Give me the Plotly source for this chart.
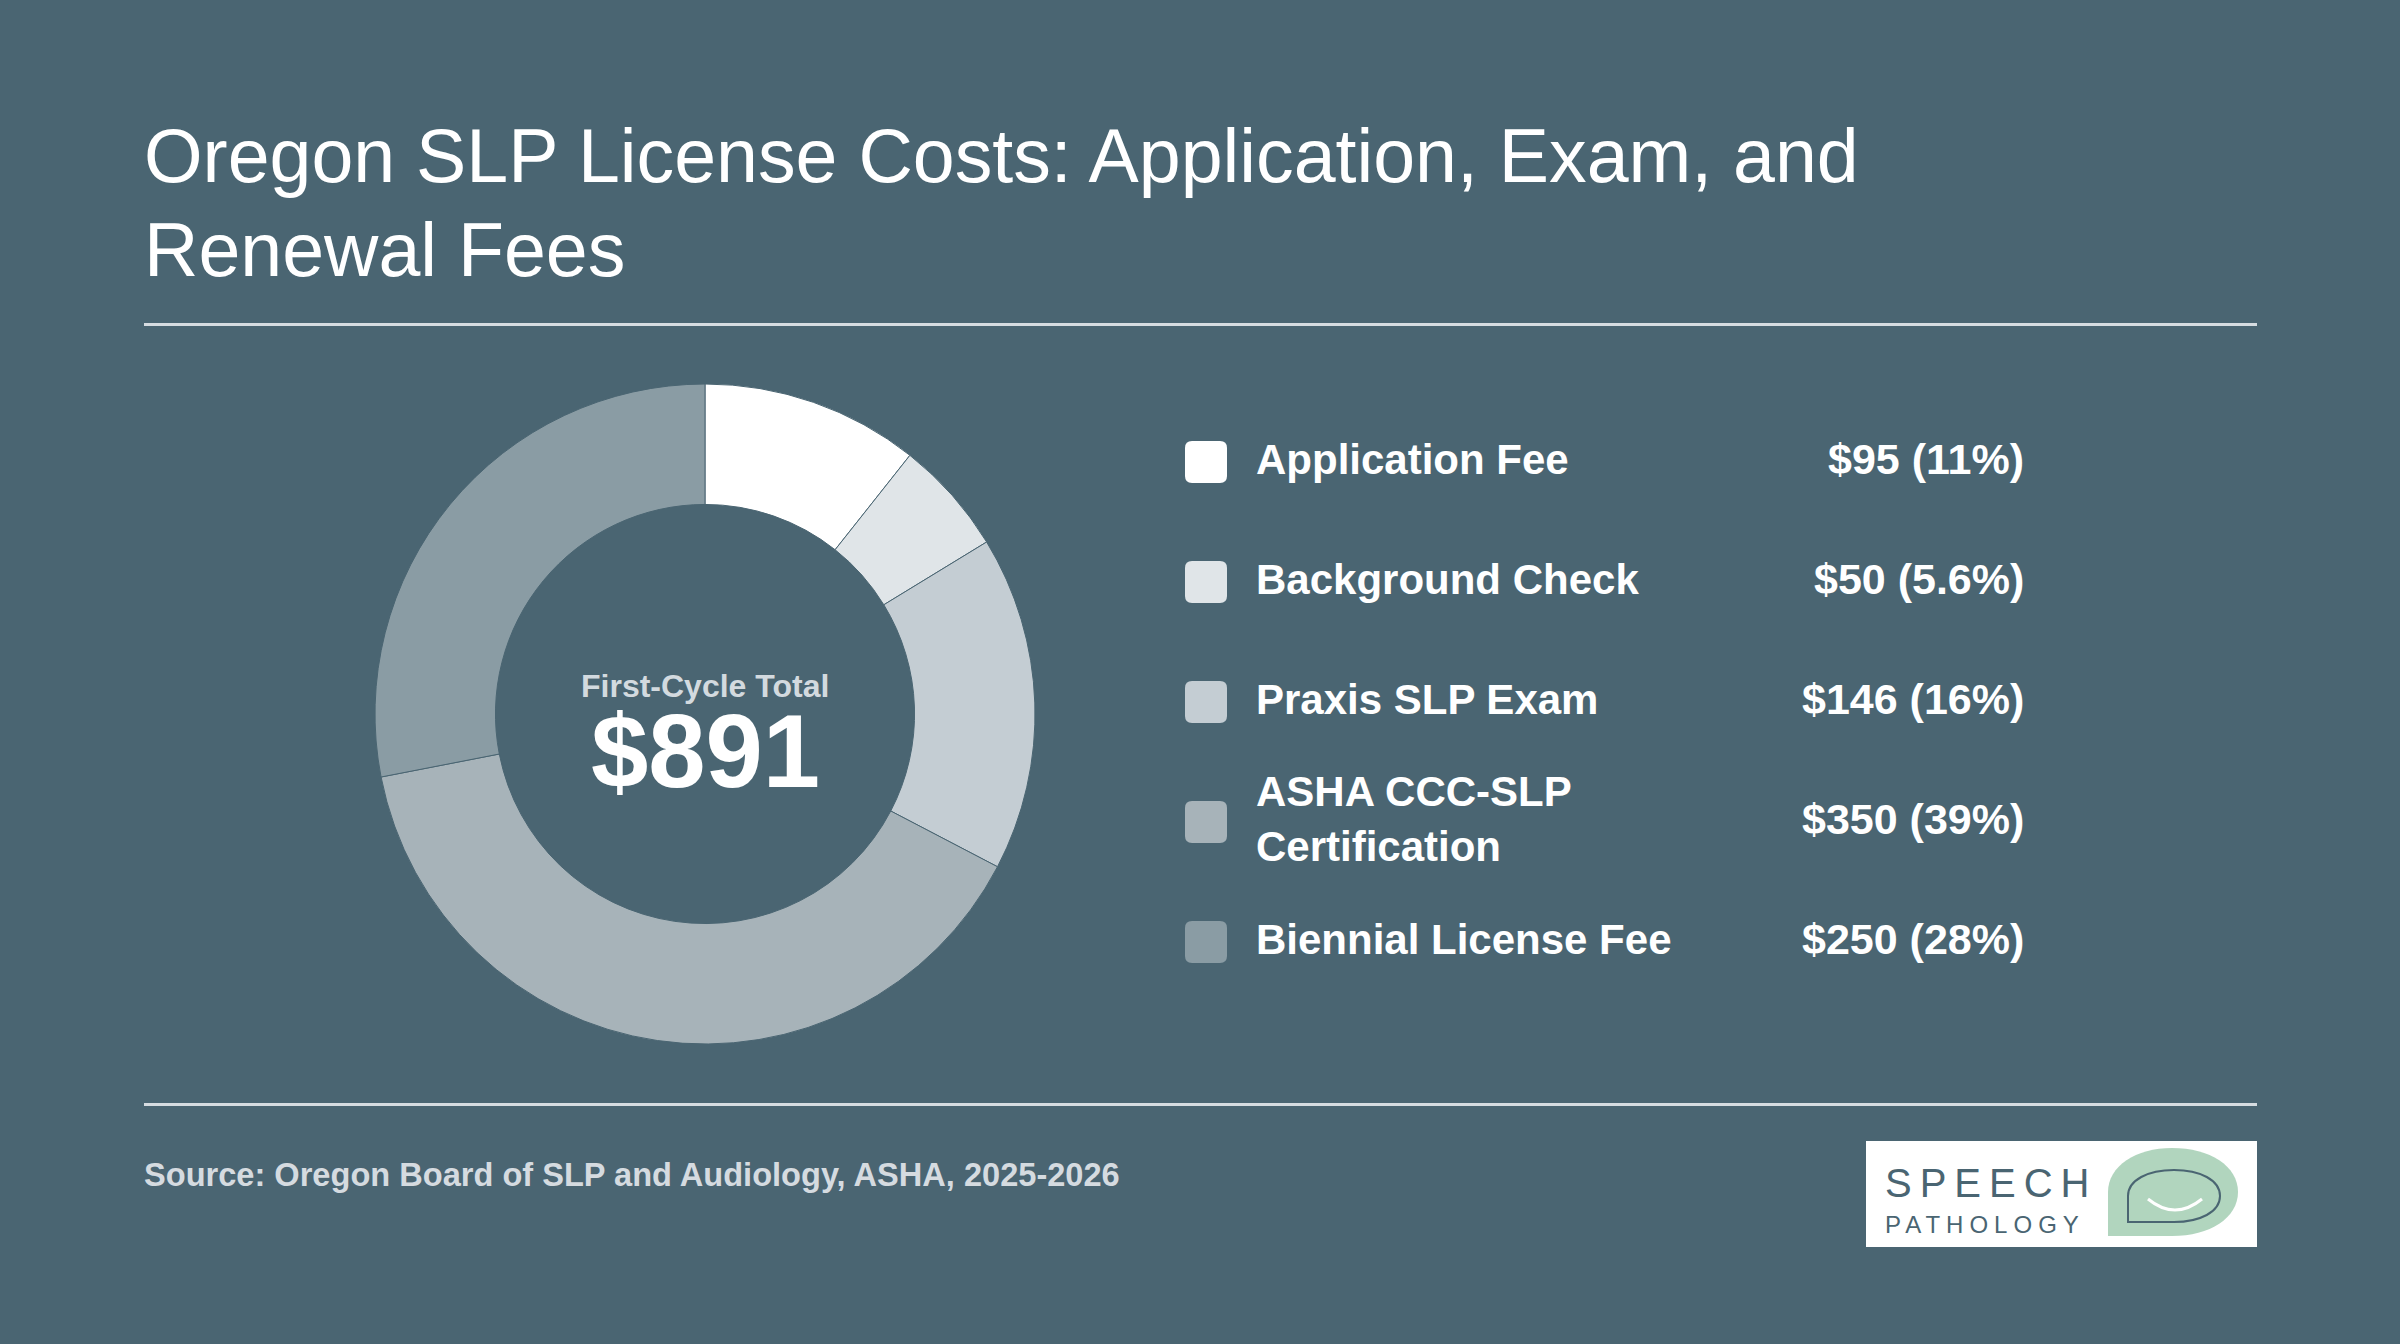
import plotly.graph_objects as go

# ---------------- data ----------------
categories = ["Application Fee", "Background Check", "Praxis SLP Exam",
              "ASHA CCC-SLP Certification", "Biennial License Fee"]
legend_labels = ["Application Fee", "Background Check", "Praxis SLP Exam",
                 "ASHA CCC-SLP<br>Certification", "Biennial License Fee"]
fees = [95, 50, 146, 350, 250]
colors = ["#ffffff", "#e0e5e8", "#c4cdd3", "#a7b3b9", "#8a9ca4"]

title_lines = ["Oregon SLP License Costs: Application, Exam, and", "Renewal Fees"]
center_label = "First-Cycle Total"
source_text = "Source: Oregon Board of SLP and Audiology, ASHA, 2025-2026"

# ---------------- layout helpers ----------------
W, H = 2400, 1344
BG = "#4a6572"
FONT = "Liberation Sans, Arial, Helvetica, sans-serif"


def px(x):
    return x / W


def py(y):
    return 1 - y / H


def path(cmds):
    out = []
    for c in cmds:
        if isinstance(c, str):
            out.append(c)
        else:
            out.append(f"{px(c[0]):.6f},{py(c[1]):.6f}")
    return " ".join(out)


def rounded_rect(x0, y0, x1, y1, r):
    return path(["M", (x0 + r, y0), "L", (x1 - r, y0), "Q", (x1, y0), (x1, y0 + r),
                 "L", (x1, y1 - r), "Q", (x1, y1), (x1 - r, y1),
                 "L", (x0 + r, y1), "Q", (x0, y1), (x0, y1 - r),
                 "L", (x0, y0 + r), "Q", (x0, y0), (x0 + r, y0), "Z"])


total = sum(fees)

fig = go.Figure()

# donut
cx, cy, R = 705, 714, 330
fig.add_trace(go.Pie(
    labels=categories, values=fees, sort=False, direction="clockwise", rotation=0,
    hole=0.635, textinfo="none", hoverinfo="label+value+percent",
    marker=dict(colors=colors, line=dict(color=BG, width=1)),
    domain=dict(x=[px(cx - R), px(cx + R)], y=[py(cy + R), py(cy - R)]),
    showlegend=False,
))

annotations = []
shapes = []

# title (two lines)
for line, yc in zip(title_lines, [156, 250]):
    annotations.append(dict(x=px(142), y=py(yc), xref="paper", yref="paper",
                            xanchor="left", yanchor="middle", showarrow=False,
                            text=line, font=dict(family=FONT, size=75.3, color="#ffffff")))

# rules
for yr in [324.5, 1104.5]:
    shapes.append(dict(type="line", xref="paper", yref="paper",
                       x0=px(144), x1=px(2257), y0=py(yr), y1=py(yr),
                       line=dict(color="#d6dce1", width=3)))

# center text
annotations.append(dict(x=px(705), y=py(686), xref="paper", yref="paper",
                        xanchor="center", yanchor="middle", showarrow=False,
                        text=f"<b>{center_label}</b>",
                        font=dict(family=FONT, size=32, color="#d3dadf")))
annotations.append(dict(x=px(705), y=py(751), xref="paper", yref="paper",
                        xanchor="center", yanchor="middle", showarrow=False,
                        text=f"<b>${total:,}</b>",
                        font=dict(family=FONT, size=103, color="#ffffff")))

# custom legend
row_y = [462, 582, 702, 822, 942]
for lab, val, col, ry in zip(legend_labels, fees, colors, row_y):
    shapes.append(dict(type="path", xref="paper", yref="paper",
                       path=rounded_rect(1185, ry - 21, 1227, ry + 21, 7),
                       fillcolor=col, line=dict(width=0)))
    pct = val / total * 100
    annotations.append(dict(x=px(1254), y=py(ry - 3), xref="paper", yref="paper",
                            xanchor="left", yanchor="middle", showarrow=False, align="left",
                            text=f"<b>{lab}</b>",
                            font=dict(family=FONT, size=42, color="#ffffff")))
    annotations.append(dict(x=px(2026), y=py(ry - 3), xref="paper", yref="paper",
                            xanchor="right", yanchor="middle", showarrow=False,
                            text=f"<b>${val} ({pct:.2g}%)</b>",
                            font=dict(family=FONT, size=43, color="#ffffff")))

# source
annotations.append(dict(x=px(142), y=py(1174), xref="paper", yref="paper",
                        xanchor="left", yanchor="middle", showarrow=False,
                        text=f"<b>{source_text}</b>",
                        font=dict(family=FONT, size=32.6, color="#d5dbe0")))

# logo
shapes.append(dict(type="rect", xref="paper", yref="paper",
                   x0=px(1866), x1=px(2257), y0=py(1247), y1=py(1141),
                   fillcolor="#ffffff", line=dict(width=0)))
shapes.append(dict(type="path", xref="paper", yref="paper",
                   path=path(["M", (2108, 1236), "L", (2108, 1192),
                              "C", (2108, 1166), (2136, 1148), (2172, 1148),
                              "C", (2210, 1148), (2238, 1166), (2238, 1192),
                              "C", (2238, 1218), (2210, 1236), (2172, 1236), "Z"]),
                   fillcolor="#b1d5be", line=dict(width=0)))
shapes.append(dict(type="path", xref="paper", yref="paper",
                   path=path(["M", (2128, 1222), "L", (2128, 1196),
                              "C", (2128, 1180), (2148, 1170), (2174, 1170),
                              "C", (2200, 1170), (2220, 1180), (2220, 1196),
                              "C", (2220, 1212), (2200, 1222), (2174, 1222), "Z"]),
                   fillcolor="rgba(0,0,0,0)", line=dict(color="#4a6572", width=2)))
shapes.append(dict(type="path", xref="paper", yref="paper",
                   path=path(["M", (2148, 1199), "Q", (2175, 1221), (2202, 1199)]),
                   fillcolor="rgba(0,0,0,0)", line=dict(color="#ffffff", width=3)))
annotations.append(dict(x=px(1883), y=py(1183), xref="paper", yref="paper",
                        xanchor="left", yanchor="middle", showarrow=False,
                        text='<span style="letter-spacing:8px">SPEECH</span>',
                        font=dict(family=FONT, size=40, color="#4a6572")))
annotations.append(dict(x=px(1883), y=py(1224), xref="paper", yref="paper",
                        xanchor="left", yanchor="middle", showarrow=False,
                        text='<span style="letter-spacing:6px">PATHOLOGY</span>',
                        font=dict(family=FONT, size=24, color="#4a6572")))

fig.update_layout(
    width=W, height=H, autosize=False,
    margin=dict(l=0, r=0, t=0, b=0, pad=0),
    paper_bgcolor=BG, plot_bgcolor=BG,
    annotations=annotations, shapes=shapes,
    showlegend=False,
)

fig.write_html("out.html", config={"displayModeBar": False})
